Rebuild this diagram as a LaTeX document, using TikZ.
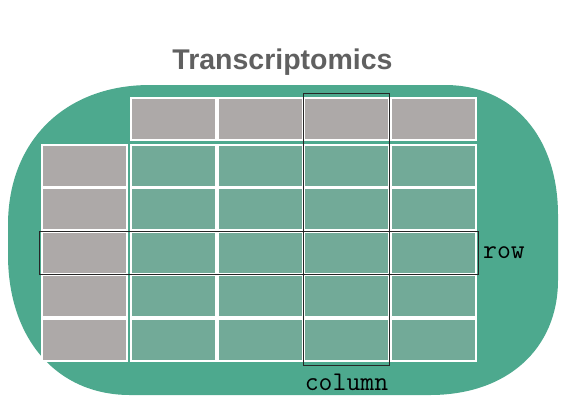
\documentclass[tikz,border=0pt]{standalone}
\usepackage{fontspec}
\setmainfont{Liberation Sans}
\usetikzlibrary{positioning,fit}
\definecolor{blobgreen}{RGB}{77,169,142}
\definecolor{cellgreen}{RGB}{114,170,152}
\definecolor{cellgray}{RGB}{173,169,168}
\definecolor{titlegray}{RGB}{96,96,96}
\begin{document}
\begin{tikzpicture}[x=1pt,y=-1pt,
  cell/.style={draw=white, line width=2pt, minimum width=85pt, minimum height=42pt, inner sep=0pt, outer sep=0pt},
  hlbox/.style={draw=black!85, line width=0.9pt, inner sep=0pt},
  lbl/.style={font=\ttfamily\fontsize{27}{27}\selectfont, inner sep=0pt}]
\useasboundingbox (0,0) rectangle (570,416);
\fill[blobgreen] (8,225) .. controls (8,141) and (65,85) .. (150,85) -- (445,85)
  .. controls (513,85) and (558,137) .. (558,215) -- (558,280)
  .. controls (558,349) and (507,395) .. (430,395) -- (130,395)
  .. controls (57,395) and (8,339) .. (8,255) -- cycle;
\foreach \c in {1,...,4}
  \node[cell, fill=cellgray] (h\c) at ({87+86.5*\c},119) {};
\foreach \r in {1,...,5} {
  \node[cell, fill=cellgray] (l\r) at (84.5,{122+43.5*\r}) {};
  \foreach \c in {1,...,4}
    \node[cell, fill=cellgreen] (d\r-\c) at ({87+86.5*\c},{122+43.5*\r}) {};
}
\node[hlbox, fit=(l3)(d3-4), inner xsep=3pt, inner ysep=0.5pt] (rowbox) {};
\node[hlbox, fit=(h3)(d5-3), inner xsep=0.5pt, inner ysep=4.5pt] (colbox) {};
\node[lbl, right=4pt of rowbox] (rowlbl) {row};
\node[lbl, below=8pt of colbox] (collbl) {column};
\node[font=\bfseries\fontsize{28.5}{30}\selectfont, text=titlegray, anchor=base] (title) at (282.5,69) {Transcriptomics};
\end{tikzpicture}
\end{document}
